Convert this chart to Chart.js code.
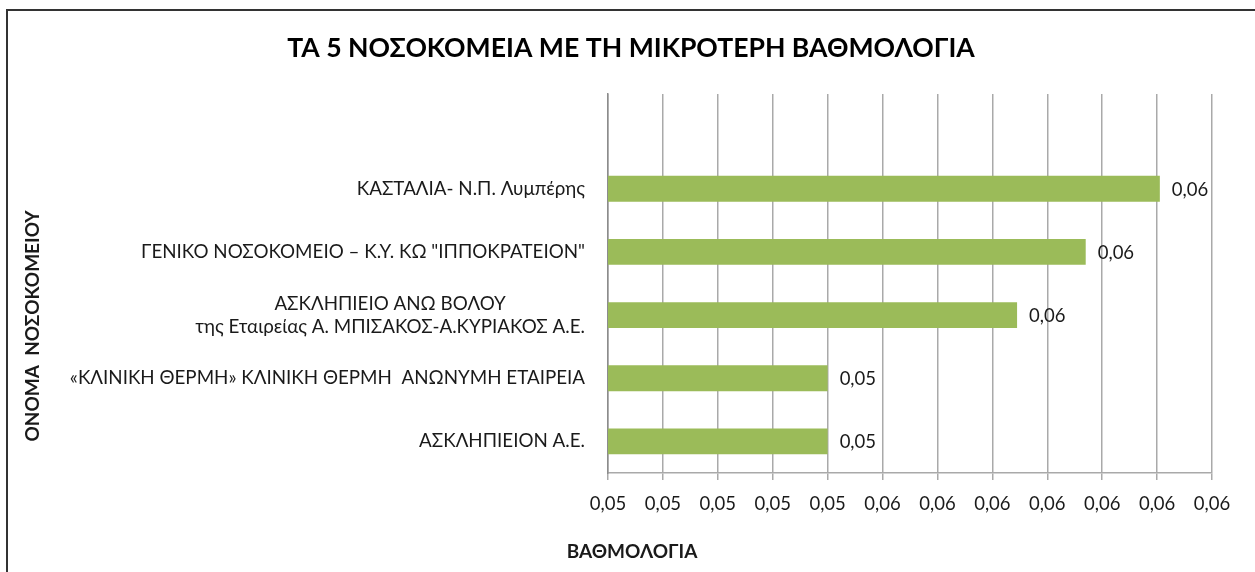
<!DOCTYPE html>
<html>
<head>
<meta charset="utf-8">
<script src="https://cdn.jsdelivr.net/npm/chart.js@4"></script>
<style>
  html, body { margin: 0; padding: 0; background: #fff; }
  canvas { display: block; }
</style>
</head>
<body>
<canvas id="chart" width="1255" height="572"></canvas>
<script>
// top row is an empty category, like in the original sheet
const categories = [
  '',
  'ΚΑΣΤΑΛΙΑ- Ν.Π. Λυμπέρης',
  'ΓΕΝΙΚΟ ΝΟΣΟΚΟΜΕΙΟ – Κ.Υ. ΚΩ "ΙΠΠΟΚΡΑΤΕΙΟΝ"',
  'ΑΣΚΛΗΠΙΕΙΟ ΑΝΩ ΒΟΛΟΥ\nτης Εταιρείας Α. ΜΠΙΣΑΚΟΣ-Α.ΚΥΡΙΑΚΟΣ Α.Ε.',
  '«ΚΛΙΝΙΚΗ ΘΕΡΜΗ» ΚΛΙΝΙΚΗ ΘΕΡΜΗ  ΑΝΩΝΥΜΗ ΕΤΑΙΡΕΙΑ',
  'ΑΣΚΛΗΠΙΕΙΟΝ Α.Ε.'
];
const scores = [null, 0.06005, 0.0587, 0.05745, 0.0540, 0.0540];
const valueLabels = ['', '0,06', '0,06', '0,06', '0,05', '0,05'];

const xTicks = [0.050, 0.051, 0.052, 0.053, 0.054, 0.055, 0.056, 0.057, 0.058, 0.059, 0.060, 0.061];
const xTickLabels = ['0,05', '0,05', '0,05', '0,05', '0,05', '0,06', '0,06', '0,06', '0,06', '0,06', '0,06', '0,06'];

const chartTitle = 'ΤΑ 5 ΝΟΣΟΚΟΜΕΙΑ ΜΕ ΤΗ ΜΙΚΡΟΤΕΡΗ ΒΑΘΜΟΛΟΓΙΑ';
const yTitle = 'ΟΝΟΜΑ  ΝΟΣΟΚΟΜΕΙΟΥ';
const xTitle = 'ΒΑΘΜΟΛΟΓΙΑ';

const FONT = 'Lato, Carlito, "Open Sans", sans-serif';
const textColor = '#1a1a1a';
const gridColor = '#a9a9a9';

const extras = {
  id: 'extras',
  beforeDraw(chart) {
    const c = chart.ctx;
    c.save();
    c.strokeStyle = '#333';
    c.lineWidth = 2;
    c.beginPath();
    c.moveTo(7, 572);
    c.lineTo(7, 10);
    c.lineTo(1255, 10);
    c.stroke();
    c.restore();
  },
  afterDraw(chart) {
    const c = chart.ctx;
    const y = chart.scales.y;
    c.save();
    c.textBaseline = 'middle';
    // title, centred on the whole picture
    c.fillStyle = '#000';
    c.font = 'bold 26.6px ' + FONT;
    c.textAlign = 'center';
    c.fillText(chartTitle, 631, 48);

    c.fillStyle = textColor;
    c.font = '18.8px ' + FONT;
    // category names: block right aligned, lines centred on each other
    categories.forEach((name, i) => {
      if (!name) return;
      const lines = name.split('\n');
      const widths = lines.map(l => c.measureText(l).width);
      const w = Math.max(...widths);
      const right = 585;
      const cy = y.getPixelForValue(i);
      const lh = 23;
      lines.forEach((l, j) => {
        const ly = cy + (j - (lines.length - 1) / 2) * lh;
        c.fillText(l, right - w / 2, ly);
      });
    });
    // value labels
    const meta = chart.getDatasetMeta(0);
    c.font = '18.5px ' + FONT;
    c.textAlign = 'left';
    meta.data.forEach((bar, i) => {
      if (scores[i] == null) return;
      c.fillText(valueLabels[i], bar.x + 12, bar.y + 1);
    });
    // axis titles
    c.font = 'bold 19px ' + FONT;
    c.textAlign = 'center';
    c.fillText(xTitle, 632, 552);
    c.translate(33, 326);
    c.rotate(-Math.PI / 2);
    c.fillText(yTitle, 0, 0);
    c.restore();
  }
};

new Chart(document.getElementById('chart'), {
  type: 'bar',
  data: {
    labels: categories,
    datasets: [{
      data: scores,
      backgroundColor: '#9bbb59',
      borderWidth: 0,
      barPercentage: 0.41,
      categoryPercentage: 1
    }]
  },
  options: {
    indexAxis: 'y',
    responsive: false,
    animation: false,
    layout: { padding: { left: 0, right: 43, top: 94, bottom: 0 } },
    plugins: {
      legend: { display: false },
      tooltip: { enabled: false },
      title: { display: false }
    },
    scales: {
      x: {
        min: 0.050,
        max: 0.061,
        afterBuildTicks: s => { s.ticks = xTicks.map(v => ({ value: v })); },
        afterFit: s => { s.height = 99; },
        ticks: {
          callback: (v, i) => xTickLabels[i],
          color: textColor,
          font: { family: FONT, size: 18.5 },
          padding: 13,
          maxRotation: 0,
          autoSkip: false
        },
        grid: { color: gridColor, lineWidth: 1.5, tickLength: 7, drawTicks: true },
        border: { color: gridColor, width: 1.5 }
      },
      y: {
        afterFit: s => { s.width = 608; },
        ticks: { display: false },
        grid: { display: false, drawTicks: false },
        border: { color: '#8c8c8c', width: 1.5 }
      }
    }
  },
  plugins: [extras]
});
</script>
</body>
</html>
